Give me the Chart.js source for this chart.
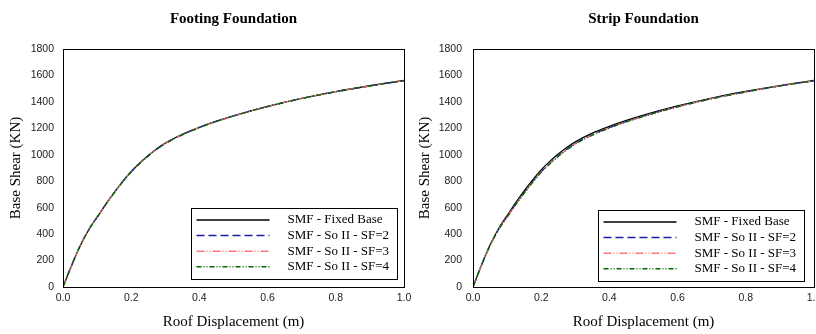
<!DOCTYPE html>
<html>
<head>
<meta charset="utf-8">
<script src="https://cdn.jsdelivr.net/npm/chart.js@4.4.1/dist/chart.umd.min.js"></script>
<style>
  body { margin: 0; background: #fff; }
  #wrap { position: relative; width: 816px; height: 334px; overflow: hidden; }
  canvas { position: absolute; top: 0; }
  #leftChart { left: 0; }
  #rightChart { left: 408px; }
</style>
</head>
<body>
<div id="wrap">
  <canvas id="leftChart" width="420" height="334"></canvas>
  <canvas id="rightChart" width="408" height="334"></canvas>
</div>
<script>
// roof displacement (m), shared by all curves
const xDisp = [0, 0.02, 0.05, 0.08, 0.1, 0.125, 0.15, 0.175, 0.2, 0.225, 0.25, 0.275, 0.3, 0.35, 0.4, 0.45, 0.5, 0.6, 0.7, 0.8, 0.9, 1.0];

// base shear (KN) - footing foundation
const fixedFooting = [0, 130, 310, 452, 528, 624, 714, 798, 874, 938, 995, 1045, 1088, 1155, 1208, 1254, 1295, 1366, 1427, 1478, 1522, 1562];
const sf2Footing   = [0, 130, 311, 453, 528, 623, 713, 797, 872, 936, 993, 1043, 1086, 1153, 1207, 1253, 1294, 1365, 1426, 1477, 1521, 1561];
const sf3Footing   = [0, 129, 310, 452, 527, 622, 712, 796, 871, 935, 992, 1042, 1085, 1152, 1206, 1252, 1294, 1365, 1426, 1477, 1521, 1561];
const sf4Footing   = [0, 129, 309, 451, 526, 621, 711, 795, 870, 934, 991, 1041, 1084, 1151, 1205, 1252, 1293, 1364, 1425, 1476, 1521, 1561];

// base shear (KN) - strip foundation
const fixedStrip = [0, 135, 318, 462, 540, 636, 726, 810, 886, 950, 1006, 1055, 1098, 1164, 1215, 1260, 1300, 1369, 1429, 1479, 1523, 1562];
const sf2Strip   = [0, 134, 315, 457, 532, 626, 714, 797, 872, 936, 992, 1042, 1086, 1153, 1206, 1252, 1293, 1364, 1425, 1476, 1521, 1560];
const sf3Strip   = [0, 134, 314, 455, 530, 623, 711, 794, 869, 933, 989, 1039, 1083, 1150, 1204, 1250, 1291, 1363, 1424, 1475, 1521, 1560];
const sf4Strip   = [0, 133, 313, 454, 528, 621, 709, 792, 867, 931, 987, 1037, 1081, 1148, 1202, 1249, 1290, 1362, 1423, 1475, 1520, 1560];

const seriesLabels = ["SMF - Fixed Base", "SMF - So II - SF=2", "SMF - So II - SF=3", "SMF - So II - SF=4"];
const xTicks = [0, 0.2, 0.4, 0.6, 0.8, 1.0];

const SERIF = "'Liberation Serif', 'Times New Roman', serif";
const SANS = "'Liberation Sans', Arial, sans-serif";

const lineStyles = [
  { color: "#000000", dash: [] },
  { color: "#1c1ca0", dash: [8, 4] },
  { color: "#ff7a7a", dash: [8, 2, 1, 2, 1, 2] },
  { color: "#006400", dash: [5, 2, 1, 2, 1, 2] }
];

function toPoints(ys) {
  return xDisp.map((x, i) => ({ x: x, y: ys[i] }));
}

function makeDatasets(seriesList) {
  return seriesList.map((ys, i) => ({
    label: seriesLabels[i],
    data: toPoints(ys),
    borderColor: lineStyles[i].color,
    borderDash: lineStyles[i].dash,
    borderWidth: 1.3,
    pointRadius: 0,
    fill: false,
    cubicInterpolationMode: "monotone",
    order: 4 - i
  }));
}

// title, plot frame and boxed legend inside the plot
const framePlugin = {
  id: "frame",
  afterDraw(chart, args, opts) {
    const ctx = chart.ctx;
    const a = chart.chartArea;
    ctx.save();

    ctx.fillStyle = "#000";
    ctx.font = "bold 15px " + SERIF;
    ctx.textAlign = "center";
    ctx.textBaseline = "middle";
    ctx.fillText(opts.title, (a.left + a.right) / 2, 19);

    ctx.strokeStyle = "#000";
    ctx.lineWidth = 1;
    ctx.strokeRect(Math.round(a.left) + 0.5, Math.round(a.top) + 0.5, Math.round(a.right - a.left), Math.round(a.bottom - a.top));

    const boxW = 206, boxH = 71;
    const bx = Math.round(a.right - opts.legendRight - boxW) + 0.5;
    const by = Math.round(a.bottom - opts.legendBottom - boxH) + 0.5;
    ctx.fillStyle = "#fff";
    ctx.fillRect(bx, by, boxW, boxH);
    ctx.strokeRect(bx, by, boxW, boxH);

    ctx.font = "13px " + SERIF;
    ctx.textAlign = "left";
    chart.data.datasets.forEach((ds, i) => {
      const y = by + 11.5 + i * 15.6;
      ctx.strokeStyle = ds.borderColor;
      ctx.lineWidth = 1.5;
      ctx.setLineDash(ds.borderDash);
      ctx.beginPath();
      ctx.moveTo(bx + 5, y);
      ctx.lineTo(bx + 78, y);
      ctx.stroke();
      ctx.setLineDash([]);
      ctx.fillStyle = "#000";
      ctx.fillText(ds.label, bx + 96, y);
    });
    ctx.restore();
  }
};

function makeChart(canvasId, seriesList, cfg) {
  return new Chart(document.getElementById(canvasId), {
    type: "line",
    data: { datasets: makeDatasets(seriesList) },
    plugins: [framePlugin],
    options: {
      responsive: false,
      animation: false,
      devicePixelRatio: 1,
      layout: { padding: { top: 49, right: cfg.padRight, bottom: 0, left: 0 } },
      plugins: {
        legend: { display: false },
        tooltip: { enabled: false },
        frame: { title: cfg.title, legendRight: cfg.legendRight, legendBottom: cfg.legendBottom }
      },
      scales: {
        x: {
          type: "linear",
          min: 0,
          max: 1,
          afterBuildTicks: s => { s.ticks = xTicks.map(v => ({ value: v })); },
          afterFit: s => { s.height = 47; s.paddingLeft = 0; s.paddingRight = 0; },
          grid: { display: false, drawTicks: true, tickLength: 4, tickColor: "#000" },
          border: { display: true, color: "#000", width: 1 },
          ticks: {
            padding: 1,
            color: "#222",
            font: { family: SANS, size: 10.5 },
            maxRotation: 0,
            autoSkip: false,
            callback: v => Number(v).toFixed(1)
          },
          title: {
            display: true,
            text: "Roof Displacement (m)",
            color: "#000",
            font: { family: SERIF, size: 15 },
            padding: { top: 0, bottom: 3 }
          }
        },
        y: {
          min: 0,
          max: 1800,
          afterFit: s => { s.width = cfg.yWidth; s.paddingTop = 0; s.paddingBottom = 0; },
          grid: { display: false, drawTicks: true, tickLength: cfg.yTickLen, tickColor: "#000" },
          border: { display: true, color: "#000", width: 1 },
          ticks: {
            stepSize: 200,
            padding: 3,
            color: "#222",
            font: { family: SANS, size: 10.5 },
            callback: v => String(v)
          },
          title: {
            display: true,
            text: "Base Shear (KN)",
            color: "#000",
            font: { family: SERIF, size: 15 },
            padding: { top: cfg.yTitlePad, bottom: 0 }
          }
        }
      }
    }
  });
}

makeChart("leftChart", [fixedFooting, sf2Footing, sf3Footing, sf4Footing], {
  title: "Footing Foundation",
  padRight: 16,
  yWidth: 63,
  yTickLen: 6,
  yTitlePad: 7,
  legendRight: 7,
  legendBottom: 8
});

makeChart("rightChart", [fixedStrip, sf2Strip, sf3Strip, sf4Strip], {
  title: "Strip Foundation",
  padRight: 2,
  yWidth: 65,
  yTickLen: 8,
  yTitlePad: 8,
  legendRight: 10,
  legendBottom: 6
});
</script>
</body>
</html>
